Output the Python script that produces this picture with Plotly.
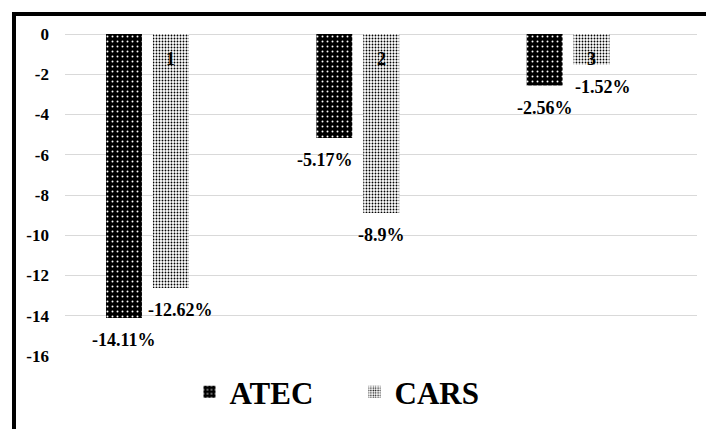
import plotly.graph_objects as go

categories = ["1", "2", "3"]
atec = [-14.11, -5.17, -2.56]
cars = [-12.62, -8.9, -1.52]
atec_labels = ["-14.11%", "-5.17%", "-2.56%"]
cars_labels = ["-12.62%", "-8.9%", "-1.52%"]
y_ticks = [0, -2, -4, -6, -8, -10, -12, -14, -16]

FONT = "Liberation Serif"

fig = go.Figure()
fig.add_trace(go.Bar(
    name="ATEC", x=categories, y=atec,
    marker=dict(color="black", line=dict(width=0),
                pattern=dict(shape=".", fgcolor="white", bgcolor="black",
                             size=5, solidity=0.12, fillmode="replace")),
))
fig.add_trace(go.Bar(
    name="CARS", x=categories, y=cars,
    marker=dict(color="white", line=dict(width=0),
                pattern=dict(shape=".", fgcolor="black", bgcolor="white",
                             size=3, solidity=0.3, fillmode="replace")),
))

ann = []
off = 23.5
atec_dx = [0, -9, 0]
cars_dx = [10, 0, 11]
lab_font = dict(family=FONT, size=18, color="black", weight="bold")
for i, c in enumerate(categories):
    ann.append(dict(x=i, y=atec[i], text=atec_labels[i], showarrow=False,
                    xshift=-off + atec_dx[i], yshift=-22, yanchor="middle",
                    font=lab_font))
    ann.append(dict(x=i, y=cars[i], text=cars_labels[i], showarrow=False,
                    xshift=off + cars_dx[i], yshift=-22, yanchor="middle",
                    font=lab_font))
    ann.append(dict(x=i, y=0, text=c, showarrow=False,
                    xshift=off, yshift=-25, yanchor="middle",
                    font=lab_font))

fig.update_layout(
    width=706, height=429,
    font=dict(family=FONT),
    margin=dict(l=65, r=9, t=34, b=73, autoexpand=False),
    paper_bgcolor="white", plot_bgcolor="white",
    barmode="group", bargap=0.554, bargroupgap=0.234,
    showlegend=True,
    legend=dict(orientation="h", x=0.197, xanchor="left", y=-0.112, yanchor="middle",
                font=dict(family=FONT, size=31, color="black", weight="bold"),
                itemclick=False, entrywidth=120, bgcolor="rgba(0,0,0,0)"),
    xaxis=dict(type="category", range=[-0.392, 2.613], showticklabels=False,
               showgrid=False, zeroline=False, showline=False, ticks=""),
    yaxis=dict(range=[-16, 0], tickvals=y_ticks, ticktext=[str(v) for v in y_ticks],
               showgrid=True, gridcolor="#d9d9d9", gridwidth=1,
               zeroline=True, zerolinecolor="#d9d9d9", zerolinewidth=1,
               showline=False, ticks="", ticklabelstandoff=15,
               tickfont=dict(family=FONT, size=17, color="black", weight="bold")),
    annotations=ann,
    shapes=[
        dict(type="line", xref="paper", yref="paper", x0=-0.0807, x1=1.2,
             y0=1.0621, y1=1.0621, line=dict(color="black", width=4)),
        dict(type="line", xref="paper", yref="paper", x0=-0.0807, x1=-0.0807,
             y0=-0.5, y1=1.0621 + 0.006, line=dict(color="black", width=4)),
    ],
)

fig.write_html("out.html", config={"displayModeBar": False},
               post_script="document.body.style.margin='0';")
